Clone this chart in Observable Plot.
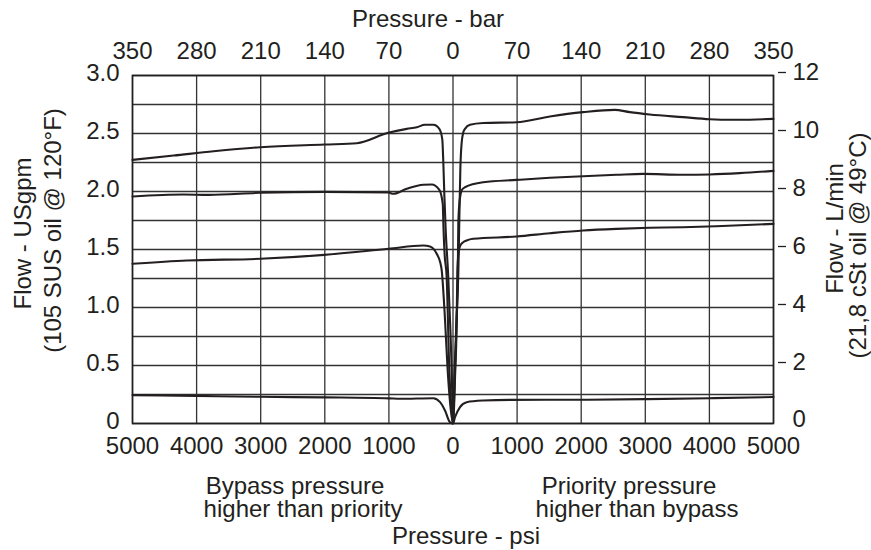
<!DOCTYPE html>
<html><head><meta charset="utf-8">
<script src="https://cdn.jsdelivr.net/npm/d3@7"></script>
<script src="https://cdn.jsdelivr.net/npm/@observablehq/plot@0.6"></script>
<style>
html,body{margin:0;padding:0;background:#fff;}
</style>
</head><body><div id="chart"></div>
<script>
// Axis tick values / labels
const psiTicks = [-5000,-4000,-3000,-2000,-1000,0,1000,2000,3000,4000,5000];
const barLabels = [350,280,210,140,70,0,70,140,210,280,350];
const gpmTicks = [0,0.5,1,1.5,2,2.5,3];
const gpmGrid = [0,0.25,0.5,0.75,1,1.25,1.5,1.75,2,2.25,2.5,2.75,3];
const lpmTicks = [2,4,6,8,10,12];
const lpmZero = [0];

// Curve A (top, ~2.5 USgpm)
const aPsi = [-5000,-4356,-3735,-3006,-2009,-1500,-1012,-721,-565,-436,-307,-213,-167,-151,-135,-115,-75,-40,-20,0,25,55,83,100,115,135,161,187,265,472,992,1511,2030,2523,2757,3068,3587,4003,4366,4730,5000];
const aGpm = [2.273,2.31,2.347,2.382,2.405,2.416,2.506,2.54,2.554,2.575,2.575,2.54,2.45,2.25,1.97,1.68,1.276,0.8,0.457,0,0.45,0.9,1.3,1.8,2.2,2.42,2.51,2.54,2.575,2.59,2.597,2.647,2.684,2.704,2.684,2.664,2.641,2.623,2.618,2.621,2.626];

// Curve B (~2.0 USgpm)
const bPsi = [-5000,-4201,-3811,-3006,-2009,-1008,-930,-721,-462,-332,-213,-160,-148,-130,-100,-57,-20,0,30,55,75,83,100,120,135,187,472,992,1511,2030,2550,2964,3587,4003,4470,5000];
const bGpm = [1.957,1.974,1.971,1.989,1.997,1.991,1.98,2.023,2.058,2.06,2.014,1.894,1.68,1.45,1.276,0.457,0.1,0,0.45,0.85,1.3,1.73,1.9,1.98,2.01,2.037,2.08,2.1,2.118,2.132,2.144,2.152,2.144,2.147,2.158,2.178];

// Curve C (~1.5 USgpm)
const cPsi = [-5000,-4148,-3006,-2009,-1008,-462,-358,-254,-200,-176,-130,-83,-35,0,35,55,68,83,110,160,213,316,992,1511,2030,2550,3068,3587,4107,5000];
const cGpm = [1.377,1.405,1.42,1.454,1.506,1.534,1.526,1.463,1.39,1.32,0.95,0.457,0.12,0,0.45,0.8,1.3,1.45,1.53,1.563,1.578,1.592,1.612,1.64,1.664,1.678,1.687,1.692,1.701,1.721];

// Curve D (bottom, ~0.2 USgpm)
const dPsi = [-5000,-4000,-3000,-2000,-1000,-826,-307,-202,-125,-47,0,31,109,213,472,888,2000,3000,4000,5000];
const dGpm = [0.245,0.238,0.23,0.225,0.217,0.213,0.218,0.184,0.112,0.011,0,0.054,0.141,0.184,0.198,0.204,0.205,0.21,0.218,0.228];

const curves = [
  {name: "A", psi: aPsi, gpm: aGpm},
  {name: "B", psi: bPsi, gpm: bGpm},
  {name: "C", psi: cPsi, gpm: cGpm},
  {name: "D", psi: dPsi, gpm: dGpm}
];
const rows = curves.flatMap(c => c.psi.map((p, i) => ({series: c.name, psi: p, gpm: c.gpm[i]})));

const ink = "#231f20";
const font = "'Liberation Sans', Arial, Helvetica, sans-serif";
const fs = 24;

const chart = Plot.plot({
  width: 871,
  height: 550,
  marginTop: 75,
  marginBottom: 127,
  marginLeft: 132,
  marginRight: 98,
  style: {fontFamily: font, fontSize: fs + "px", color: ink, background: "#fff", overflow: "visible"},
  x: {domain: [-5000, 5000]},
  y: {domain: [0, 3]},
  marks: [
    Plot.gridX(psiTicks, {stroke: "#333", strokeOpacity: 1, strokeWidth: 1.3}),
    Plot.gridY(gpmGrid, {stroke: "#333", strokeOpacity: 1, strokeWidth: 1.3}),
    Plot.frame({stroke: ink, strokeWidth: 1.6}),
    Plot.line(rows, {x: "psi", y: "gpm", z: "series", curve: "monotone-x", stroke: ink, strokeWidth: 2.1}),
    Plot.axisX(psiTicks, {anchor: "bottom", tickSize: 0, tickPadding: 13, tickFormat: d => String(Math.abs(d)), label: null, fontSize: fs}),
    Plot.axisX(psiTicks, {anchor: "top", tickSize: 0, tickPadding: 17, tickFormat: d => String(barLabels[psiTicks.indexOf(d)]), label: null, fontSize: fs}),
    Plot.axisY(gpmTicks, {anchor: "left", tickSize: 0, tickPadding: 13, dy: -2, tickFormat: d => d === 0 ? "0" : d.toFixed(1), label: null, fontSize: fs}),
    Plot.axisY(lpmTicks.map(L => L / 4), {anchor: "right", tickSize: 8, dx: 4, dy: -3, tickPadding: 7, tickFormat: d => String(Math.round(d * 4)), label: null, fontSize: fs, strokeWidth: 1.3}),
    Plot.axisY(lpmZero.map(L => L / 4), {anchor: "right", tickSize: 0, dy: -4, tickPadding: 19, tickFormat: d => String(Math.round(d * 4)), label: null, fontSize: fs}),
    // titles
    Plot.text(["Pressure - bar"], {frameAnchor: "top", dx: -25, dy: -49, lineAnchor: "bottom", fontSize: fs}),
    Plot.text(["Pressure - psi"], {frameAnchor: "bottom", dx: 13, dy: 120, lineAnchor: "bottom", fontSize: fs}),
    Plot.text(["Bypass pressure"], {frameAnchor: "bottom", textAnchor: "middle", dx: -158, dy: 70, lineAnchor: "bottom", fontSize: fs}),
    Plot.text(["higher than priority"], {frameAnchor: "bottom", textAnchor: "middle", dx: -150, dy: 93, lineAnchor: "bottom", fontSize: fs}),
    Plot.text(["Priority pressure"], {frameAnchor: "bottom", textAnchor: "middle", dx: 176, dy: 70, lineAnchor: "bottom", fontSize: fs}),
    Plot.text(["higher than bypass"], {frameAnchor: "bottom", textAnchor: "middle", dx: 184, dy: 93, lineAnchor: "bottom", fontSize: fs}),
    Plot.text(["Flow - USgpm"], {frameAnchor: "left", textAnchor: "middle", dx: -109, dy: -16, rotate: -90, lineAnchor: "middle", fontSize: fs}),
    Plot.text(["(105 SUS oil @ 120°F)"], {frameAnchor: "left", textAnchor: "middle", dx: -79, dy: -19, rotate: -90, lineAnchor: "middle", fontSize: fs}),
    Plot.text(["Flow - L/min"], {frameAnchor: "right", textAnchor: "middle", dx: 62, dy: -21, rotate: -90, lineAnchor: "middle", fontSize: fs}),
    Plot.text(["(21,8 cSt oil @ 49°C)"], {frameAnchor: "right", textAnchor: "middle", dx: 85, dy: -4, rotate: -90, lineAnchor: "middle", fontSize: fs})
  ]
});
document.getElementById("chart").appendChild(chart);
</script>
</body></html>
